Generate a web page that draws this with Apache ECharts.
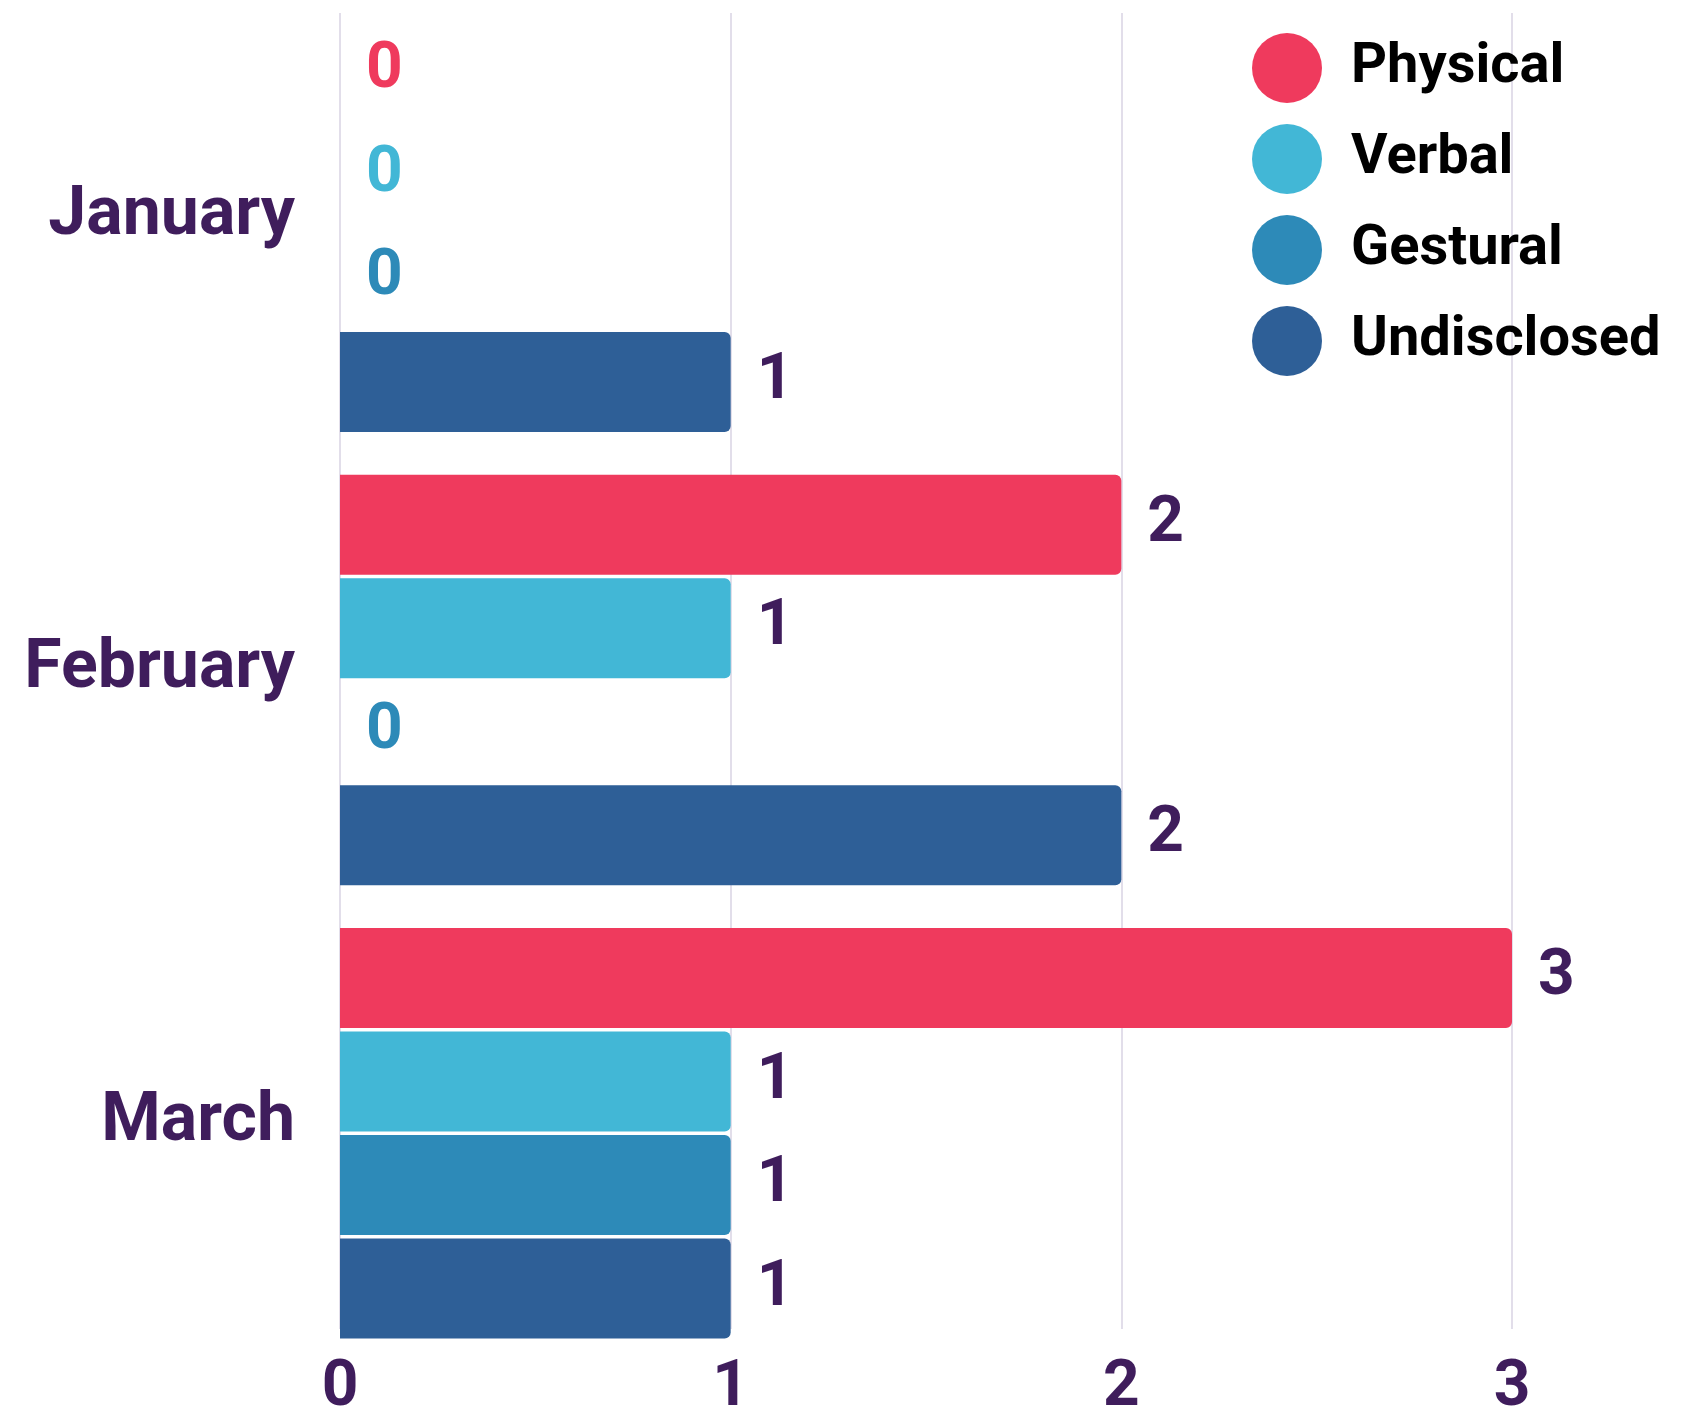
<!DOCTYPE html>
<html>
<head>
<meta charset="utf-8">
<script src="https://cdn.jsdelivr.net/npm/echarts@6/dist/echarts.min.js"></script>
<style>
  html, body { margin: 0; padding: 0; background: #ffffff; }
  #main { width: 1681px; height: 1421px; }
</style>
</head>
<body>
<div id="main"></div>
<script>
const months = ['January', 'February', 'March'];
const seriesNames = ['Physical', 'Verbal', 'Gestural', 'Undisclosed'];
const physical = [0, 2, 3];
const verbal = [0, 1, 1];
const gestural = [0, 0, 1];
const undisclosed = [1, 2, 1];
const xTicks = [0, 1, 2, 3];

const colors = ['#ef3a5d', '#42b7d6', '#2d8ab8', '#2e5f97'];
const purple = '#3f1d5c';
const font = 'Roboto';

var chartDom = document.getElementById('main');
var myChart = echarts.init(chartDom);

// zero labels take the series colour, the rest are purple
function makeSeries(name, values, color) {
    return {
        name: name,
        type: 'bar',
        xAxisIndex: 0,
        yAxisIndex: 0,
        barWidth: 100,
        barGap: '3.5%',
        itemStyle: { color: color, borderRadius: [0, 6, 6, 0] },
        label: {
            show: true,
            position: 'right',
            distance: 26,
            fontFamily: font,
            fontWeight: 'bold',
            fontSize: 64
        },
        data: values.map(v => ({
            value: v,
            label: { color: v === 0 ? color : purple }
        }))
    };
}

var option = {
    backgroundColor: '#ffffff',
    animation: false,
    legend: {
        orient: 'vertical',
        left: 1247,
        top: 28,
        icon: 'circle',
        itemWidth: 70,
        itemHeight: 70,
        itemGap: 21,
        data: seriesNames,
        textStyle: {
            color: '#000000',
            fontFamily: font,
            fontWeight: 'bold',
            fontSize: 56,
            padding: [0, 0, 0, 24]
        }
    },
    grid: [
        // bars
        { left: 340, right: 169, top: -11, height: 1371 },
        // gridlines + x labels
        { left: 340, right: 169, top: 13, bottom: 86 }
    ],
    xAxis: [
        {
            type: 'value', gridIndex: 0, min: 0, max: 3, interval: 1,
            axisLine: { show: false }, axisTick: { show: false },
            axisLabel: { show: false }, splitLine: { show: false }
        },
        {
            type: 'value', gridIndex: 1, min: xTicks[0], max: xTicks[xTicks.length - 1], interval: 1,
            axisLine: { show: false }, axisTick: { show: false },
            axisLabel: {
                color: purple, fontFamily: font, fontWeight: 'bold',
                fontSize: 64, margin: 28
            },
            splitLine: { lineStyle: { color: '#d8d3e3', width: 1.5 } }
        }
    ],
    yAxis: [
        {
            type: 'category', gridIndex: 0, data: months, inverse: true,
            axisLine: { show: false }, axisTick: { show: false },
            axisLabel: {
                margin: 45,
                formatter: v => '{m|' + v + '}',
                rich: {
                    m: {
                        color: purple, fontFamily: font, fontWeight: 'bold',
                        fontSize: 68, padding: [0, 0, 20, 0]
                    }
                }
            }
        },
        { type: 'value', gridIndex: 1, show: false }
    ],
    series: [
        makeSeries(seriesNames[0], physical, colors[0]),
        makeSeries(seriesNames[1], verbal, colors[1]),
        makeSeries(seriesNames[2], gestural, colors[2]),
        makeSeries(seriesNames[3], undisclosed, colors[3])
    ]
};

option && myChart && myChart.setOption(option);
</script>
</body>
</html>
